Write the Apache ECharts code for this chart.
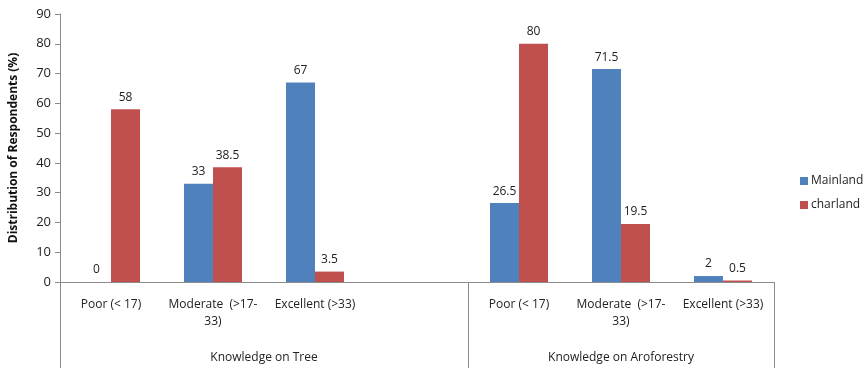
<!DOCTYPE html>
<html>
<head>
<meta charset="utf-8">
<script src="https://cdn.jsdelivr.net/npm/echarts@6/dist/echarts.min.js"></script>
<style>
  html, body { margin: 0; padding: 0; background: #fff; }
  #chart { width: 865px; height: 368px; }
</style>
</head>
<body>
<div id="chart"></div>
<script>
// categories (one empty slot between the two groups)
const categories = ['Poor (< 17)', 'Moderate  (>17-\n33)', 'Excellent (>33)', '', 'Poor (< 17)', 'Moderate  (>17-\n33)', 'Excellent (>33)'];
const mainland = [0, 33, 67, null, 26.5, 71.5, 2];
const charland = [58, 38.5, 3.5, null, 80, 19.5, 0.5];
const groups = ['Knowledge on Tree', 'Knowledge on Aroforestry'];
const groupBounds = [0, 4, 7];   // slot edges of each group
const groupCenters = [2, 5.5];

const chart = echarts.init(document.getElementById('chart'));
const font = 'Open Sans, Liberation Sans, sans-serif';
const labelStyle = { show: true, position: 'top', distance: 6, color: '#222', fontSize: 12, fontFamily: font };

chart.setOption({
  animation: false,
  textStyle: { fontFamily: font },
  grid: { left: 59, top: 14, right: 91, bottom: 86 },
  legend: {
    orient: 'vertical',
    left: 795,
    top: 170,
    itemWidth: 8,
    itemHeight: 8,
    itemGap: 12,
    icon: 'rect',
    textStyle: { fontSize: 12, color: '#222', padding: [0, 0, 0, -2] },
    data: ['Mainland', 'charland']
  },
  xAxis: [
    {
      type: 'category',
      data: categories,
      axisLine: { lineStyle: { color: '#8c8c8c' } },
      axisTick: { show: false },
      axisLabel: { interval: 0, color: '#222', fontSize: 12, margin: 14, lineHeight: 17 }
    },
    {
      type: 'value',
      min: 0,
      max: 7,
      position: 'bottom',
      axisLine: { show: false },
      splitLine: { show: false },
      axisTick: { show: true, customValues: groupBounds, length: 86, lineStyle: { color: '#8c8c8c' } },
      axisLabel: {
        customValues: groupCenters,
        margin: 70,
        color: '#222',
        fontSize: 12,
        formatter: v => groups[groupCenters.indexOf(v)]
      }
    }
  ],
  yAxis: {
    type: 'value',
    min: 0,
    max: 90,
    interval: 10,
    name: 'Distribution of Respondents (%)',
    nameLocation: 'middle',
    nameGap: 40,
    nameTextStyle: { fontWeight: 'bold', fontSize: 12, color: '#111' },
    axisLine: { show: true, lineStyle: { color: '#8c8c8c' } },
    axisTick: { show: true, length: 5, lineStyle: { color: '#8c8c8c' } },
    axisLabel: { color: '#222', fontSize: 13, margin: 9 },
    splitLine: { show: false }
  },
  series: [
    {
      name: 'Mainland',
      type: 'bar',
      data: mainland,
      barWidth: 29,
      barGap: '0%',
      itemStyle: { color: '#4F81BD' },
      label: labelStyle
    },
    {
      name: 'charland',
      type: 'bar',
      data: charland,
      barWidth: 29,
      itemStyle: { color: '#C0504D' },
      label: labelStyle
    }
  ]
});
</script>
</body>
</html>
